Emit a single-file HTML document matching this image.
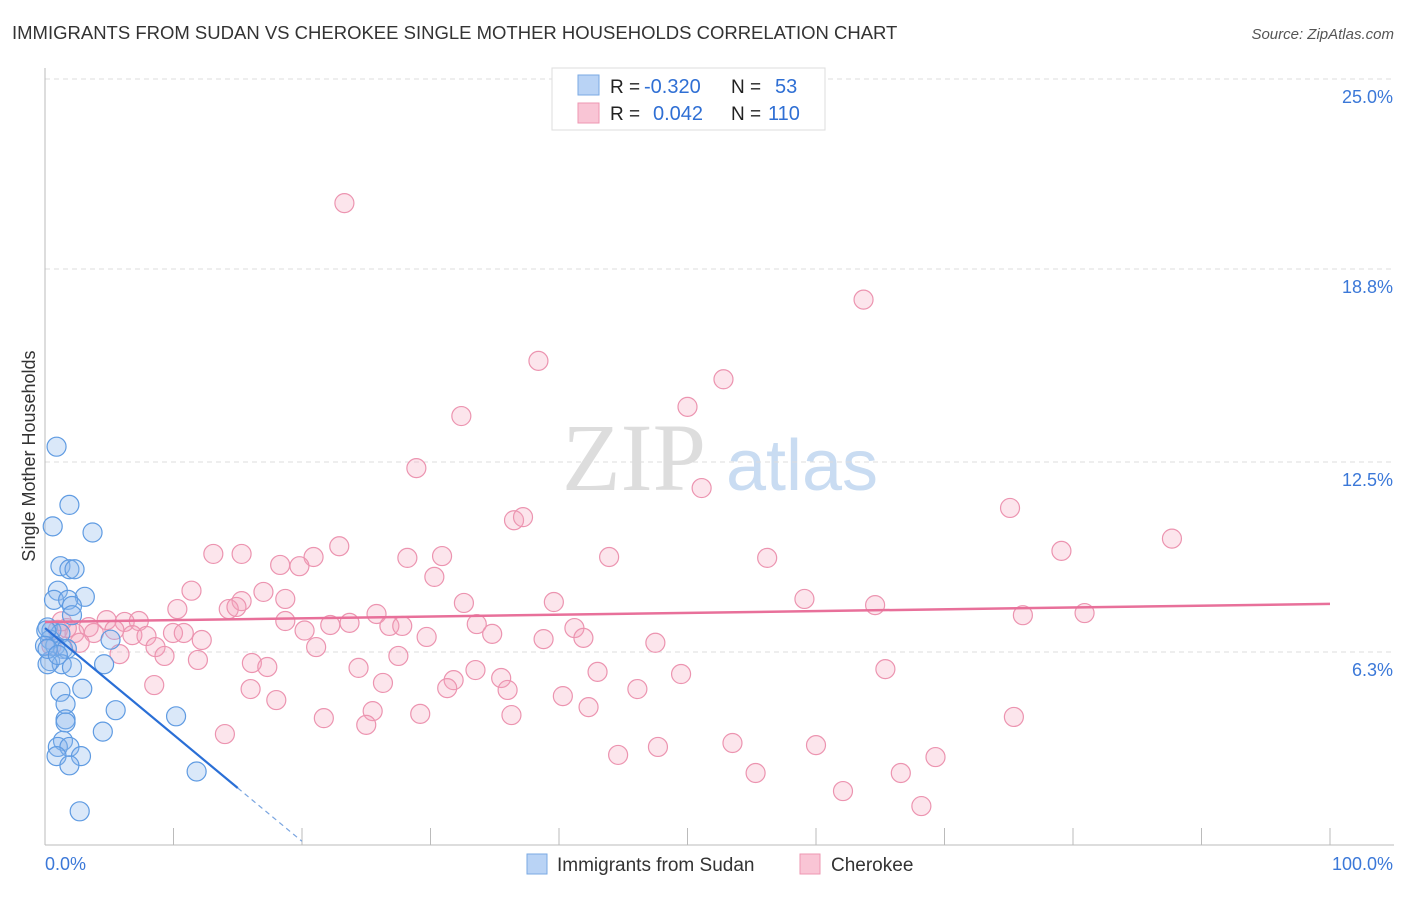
<!DOCTYPE html>
<html><head><meta charset="utf-8"><style>
body{margin:0;background:#fff;font-family:"Liberation Sans",sans-serif;}
svg text{font-family:"Liberation Sans",sans-serif;}
</style></head><body>
<svg id="chart" width="1406" height="892" viewBox="0 0 1406 892" xmlns="http://www.w3.org/2000/svg">
<text x="12" y="39" font-size="18.5" fill="#333">IMMIGRANTS FROM SUDAN VS CHEROKEE SINGLE MOTHER HOUSEHOLDS CORRELATION CHART</text>
<text x="1394" y="39" font-size="15" fill="#555" font-style="italic" text-anchor="end">Source: ZipAtlas.com</text>
<g>
<text x="634" y="490" font-size="96" fill="#ddd" font-family="Liberation Serif,serif" text-anchor="middle" style="font-family:'Liberation Serif',serif">ZIP</text>
<text x="802" y="490" font-size="72" fill="#c9dcf2" text-anchor="middle">atlas</text>
</g>
<g id="grid"></g>
<g id="axes"></g>
<g id="marks"></g>
<text x="35" y="456" font-size="18" fill="#333" text-anchor="middle" transform="rotate(-90 35 456)">Single Mother Households</text>
<g>
<rect x="552" y="68" width="273" height="62" fill="#fff" stroke="#ddd"/>
<rect x="578" y="75" width="21" height="20" fill="#b9d3f5" stroke="#7aa9e3"/>
<rect x="578" y="103" width="21" height="20" fill="#f9c5d5" stroke="#ee97b2"/>
<text x="610" y="93" font-size="19" fill="#222">R =</text><text x="644" y="93" font-size="20" fill="#2f6fd4">-0.320</text>
<text x="731" y="93" font-size="19" fill="#222">N =</text><text x="775" y="93" font-size="20" fill="#2f6fd4">53</text>
<text x="610" y="120" font-size="19" fill="#222">R =</text><text x="653" y="120" font-size="20" fill="#2f6fd4">0.042</text>
<text x="731" y="120" font-size="19" fill="#222">N =</text><text x="768" y="120" font-size="20" fill="#2f6fd4">110</text>
</g>
<g>
<rect x="527" y="854" width="20" height="20" fill="#b9d3f5" stroke="#7aa9e3"/>
<text x="557" y="871" font-size="19" fill="#333">Immigrants from Sudan</text>
<rect x="800" y="854" width="20" height="20" fill="#f9c5d5" stroke="#ee97b2"/>
<text x="831" y="871" font-size="19" fill="#333">Cherokee</text>
</g>
</svg>
<script>
const yTicks=[6.3,12.5,18.8,25.0];
const yTickLabels=["6.3%","12.5%","18.8%","25.0%"];
const xTickLabels=["0.0%","100.0%"];
const sudanX=[0.9,1.9,0.6,3.7,1.2,1.9,2.3,1.0,3.1,0.7,1.8,2.1,2.1,0.2,0.5,1.2,0.4,0.8,1.4,1.7,5.1,0.4,1.3,2.1,4.6,0.2,2.9,1.2,1.6,5.5,10.2,1.6,1.6,4.5,1.4,1.0,1.9,0.9,2.8,1.9,11.8,2.7,0.1,0.0,0.2,1.0];
const sudanY=[13.0,11.1,10.4,10.2,9.1,9.0,9.0,8.3,8.1,8.0,8.0,7.8,7.5,7.1,7.0,6.9,6.7,6.5,6.4,6.4,6.7,6.0,5.9,5.8,5.9,5.9,5.1,5.0,4.6,4.4,4.2,4.1,4.0,3.7,3.4,3.2,3.2,2.9,2.9,2.6,2.4,1.1,7.0,6.5,6.4,6.2];
const cherX=[23.3,63.7,38.4,52.8,50.0,32.4,28.9,51.1,75.1,36.5,37.2,87.7,79.1,22.9,13.1,15.3,20.9,28.2,30.9,43.9,56.2,18.3,19.8,30.3,11.4,17.0,18.7,15.3,59.1,32.6,39.6,10.3,14.3,14.9,25.8,64.6,80.9,76.1,4.8,6.2,7.3,18.7,22.2,23.7,26.8,27.8,33.6,41.2,3.4,5.4,3.8,1.0,2.3,6.8,7.9,9.96,10.8,20.2,34.8,29.7,38.8,41.9,12.2,8.6,2.7,47.5,21.1,5.8,9.3,11.9,27.5,16.1,17.3,24.4,33.5,43.0,49.5,65.4,31.8,35.5,8.5,26.3,16.0,31.3,36.0,46.1,40.3,18.0,42.3,25.5,29.2,36.3,21.7,75.4,25.0,14.0,53.5,60.0,47.7,44.6,69.3,55.3,66.6,62.1,68.2,1.7,0.5,1.3];
const cherY=[20.95,17.8,15.8,15.2,14.3,14.0,12.3,11.65,11.0,10.6,10.7,10.0,9.6,9.75,9.5,9.5,9.4,9.37,9.43,9.4,9.37,9.14,9.1,8.75,8.3,8.26,8.03,7.96,8.03,7.9,7.93,7.7,7.7,7.77,7.54,7.83,7.57,7.5,7.34,7.28,7.31,7.31,7.18,7.25,7.15,7.15,7.21,7.08,7.11,7.02,6.92,7.02,6.92,6.85,6.82,6.92,6.92,7.0,6.89,6.79,6.72,6.76,6.69,6.46,6.6,6.6,6.46,6.23,6.17,6.04,6.17,5.94,5.81,5.78,5.71,5.65,5.58,5.74,5.38,5.45,5.22,5.29,5.09,5.12,5.06,5.09,4.86,4.73,4.5,4.37,4.28,4.24,4.14,4.18,3.92,3.62,3.33,3.26,3.2,2.94,2.87,2.35,2.35,1.76,1.27,7.08,6.5,7.3];
const sudanTrend=[7.08,-0.348];
const cherTrend=[7.28,0.0059];
const NS="http://www.w3.org/2000/svg";
const X0=45,X1=1330,Y0=845,YPER=30.64;
function sx(v){return X0+(X1-X0)*v/100;}
function sy(v){return Y0-v*YPER;}
function mk(tag,attrs,parent){const e=document.createElementNS(NS,tag);for(const k in attrs)e.setAttribute(k,attrs[k]);parent.appendChild(e);return e;}
const grid=document.getElementById('grid'),axes=document.getElementById('axes'),marks=document.getElementById('marks');
yTicks.forEach((t,i)=>{
 const l=mk('line',{x1:X0,x2:1394,y1:sy(t),y2:sy(t),stroke:'#ddd','stroke-dasharray':'5,4'},grid);
 
 
 const tx=mk('text',{x:1393,y:sy(t)+24,'font-size':18,fill:'#3b78d8','text-anchor':'end'},grid);
 tx.textContent=yTickLabels[i];
 
 
});
const top25=mk('line',{x1:X0,x2:1394,y1:79,y2:79,stroke:'#ddd','stroke-dasharray':'5,4'},grid);


const ya=mk('line',{x1:X0,x2:X0,y1:68,y2:Y0,stroke:'#bbb'},axes);


const xa=mk('line',{x1:X0,x2:1394,y1:Y0,y2:Y0,stroke:'#bbb'},axes);


for(let i=0;i<=10;i++){
 const t=mk('line',{x1:sx(i*10),x2:sx(i*10),y1:828,y2:Y0,stroke:'#bbb'},axes);
 
 
}
[[0,'start',45],[100,'end',1393]].forEach((p,i)=>{
 const tx=mk('text',{x:p[2],y:870,'font-size':18,fill:'#3b78d8','text-anchor':p[1]},axes);
 tx.textContent=xTickLabels[i];
 
 
});
cherX.forEach((x,i)=>{
 const c=mk('circle',{cx:sx(x),cy:sy(cherY[i]),r:9.5,fill:'rgba(244,160,188,0.28)',stroke:'#ec94b0','stroke-width':1.2},marks);
 
 
});
sudanX.forEach((x,i)=>{
 const c=mk('circle',{cx:sx(x),cy:sy(sudanY[i]),r:9.5,fill:'rgba(140,182,236,0.32)',stroke:'#5f9be2','stroke-width':1.2},marks);
 
 
});
const ct=mk('line',{x1:sx(0),y1:sy(cherTrend[0]),x2:sx(100),y2:sy(cherTrend[0]+cherTrend[1]*100),stroke:'#e8709a','stroke-width':2.5},marks);


const st=mk('line',{x1:sx(0),y1:sy(sudanTrend[0]),x2:sx(15),y2:sy(sudanTrend[0]+sudanTrend[1]*15),stroke:'#2a6fd6','stroke-width':2.2},marks);


const sd=mk('line',{x1:sx(15),y1:sy(sudanTrend[0]+sudanTrend[1]*15),x2:sx(20),y2:sy(sudanTrend[0]+sudanTrend[1]*20),stroke:'#7aa5e0','stroke-width':1.2,'stroke-dasharray':'5,4'},marks);


</script>
</body></html>
